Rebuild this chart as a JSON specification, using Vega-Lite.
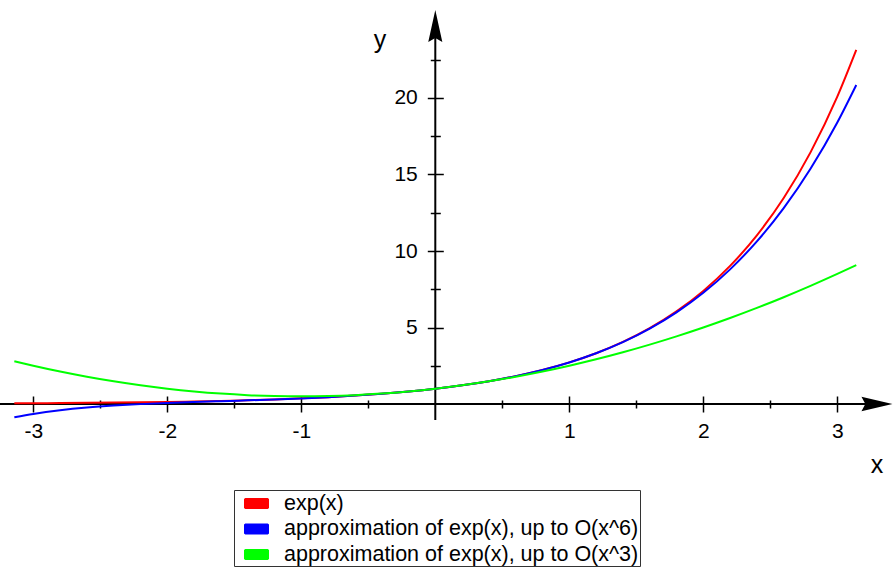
{
  "$schema": "https://vega.github.io/schema/vega-lite/v6.json",
  "width": 893,
  "height": 569,
  "padding": 0,
  "autosize": {"type": "none"},
  "background": "white",
  "config": {"view": {"stroke": null}, "font": "Liberation Sans"},
  "data": {"values": [{}]},
  "datasets": {
    "curves": [
      {"x": -3.1416, "y": 0.0432, "s": "exp(x)"},
      {"x": -3, "y": 0.0498, "s": "exp(x)"},
      {"x": -2.8, "y": 0.0608, "s": "exp(x)"},
      {"x": -2.6, "y": 0.0743, "s": "exp(x)"},
      {"x": -2.4, "y": 0.0907, "s": "exp(x)"},
      {"x": -2.2, "y": 0.1108, "s": "exp(x)"},
      {"x": -2, "y": 0.1353, "s": "exp(x)"},
      {"x": -1.8, "y": 0.1653, "s": "exp(x)"},
      {"x": -1.6, "y": 0.2019, "s": "exp(x)"},
      {"x": -1.4, "y": 0.2466, "s": "exp(x)"},
      {"x": -1.2, "y": 0.3012, "s": "exp(x)"},
      {"x": -1, "y": 0.3679, "s": "exp(x)"},
      {"x": -0.8, "y": 0.4493, "s": "exp(x)"},
      {"x": -0.6, "y": 0.5488, "s": "exp(x)"},
      {"x": -0.4, "y": 0.6703, "s": "exp(x)"},
      {"x": -0.2, "y": 0.8187, "s": "exp(x)"},
      {"x": 0, "y": 1, "s": "exp(x)"},
      {"x": 0.2, "y": 1.2214, "s": "exp(x)"},
      {"x": 0.4, "y": 1.4918, "s": "exp(x)"},
      {"x": 0.6, "y": 1.8221, "s": "exp(x)"},
      {"x": 0.8, "y": 2.2255, "s": "exp(x)"},
      {"x": 1, "y": 2.7183, "s": "exp(x)"},
      {"x": 1.2, "y": 3.3201, "s": "exp(x)"},
      {"x": 1.4, "y": 4.0552, "s": "exp(x)"},
      {"x": 1.6, "y": 4.953, "s": "exp(x)"},
      {"x": 1.8, "y": 6.0496, "s": "exp(x)"},
      {"x": 2, "y": 7.3891, "s": "exp(x)"},
      {"x": 2.2, "y": 9.025, "s": "exp(x)"},
      {"x": 2.4, "y": 11.0232, "s": "exp(x)"},
      {"x": 2.6, "y": 13.4637, "s": "exp(x)"},
      {"x": 2.8, "y": 16.4446, "s": "exp(x)"},
      {"x": 3, "y": 20.0855, "s": "exp(x)"},
      {"x": 3.1416, "y": 23.1407, "s": "exp(x)"},
      {"x": -3.1416, "y": -0.866, "s": "approximation of exp(x), up to O(x^6)"},
      {"x": -3, "y": -0.65, "s": "approximation of exp(x), up to O(x^6)"},
      {"x": -2.8, "y": -0.4118, "s": "approximation of exp(x), up to O(x^6)"},
      {"x": -2.6, "y": -0.2353, "s": "approximation of exp(x), up to O(x^6)"},
      {"x": -2.4, "y": -0.1052, "s": "approximation of exp(x), up to O(x^6)"},
      {"x": -2.2, "y": -0.0081, "s": "approximation of exp(x), up to O(x^6)"},
      {"x": -2, "y": 0.0667, "s": "approximation of exp(x), up to O(x^6)"},
      {"x": -1.8, "y": 0.1279, "s": "approximation of exp(x), up to O(x^6)"},
      {"x": -1.6, "y": 0.183, "s": "approximation of exp(x), up to O(x^6)"},
      {"x": -1.4, "y": 0.238, "s": "approximation of exp(x), up to O(x^6)"},
      {"x": -1.2, "y": 0.2977, "s": "approximation of exp(x), up to O(x^6)"},
      {"x": -1, "y": 0.3667, "s": "approximation of exp(x), up to O(x^6)"},
      {"x": -0.8, "y": 0.4491, "s": "approximation of exp(x), up to O(x^6)"},
      {"x": -0.6, "y": 0.5488, "s": "approximation of exp(x), up to O(x^6)"},
      {"x": -0.4, "y": 0.6703, "s": "approximation of exp(x), up to O(x^6)"},
      {"x": -0.2, "y": 0.8187, "s": "approximation of exp(x), up to O(x^6)"},
      {"x": 0, "y": 1, "s": "approximation of exp(x), up to O(x^6)"},
      {"x": 0.2, "y": 1.2214, "s": "approximation of exp(x), up to O(x^6)"},
      {"x": 0.4, "y": 1.4918, "s": "approximation of exp(x), up to O(x^6)"},
      {"x": 0.6, "y": 1.822, "s": "approximation of exp(x), up to O(x^6)"},
      {"x": 0.8, "y": 2.2251, "s": "approximation of exp(x), up to O(x^6)"},
      {"x": 1, "y": 2.7167, "s": "approximation of exp(x), up to O(x^6)"},
      {"x": 1.2, "y": 3.3151, "s": "approximation of exp(x), up to O(x^6)"},
      {"x": 1.4, "y": 4.0422, "s": "approximation of exp(x), up to O(x^6)"},
      {"x": 1.6, "y": 4.9232, "s": "approximation of exp(x), up to O(x^6)"},
      {"x": 1.8, "y": 5.9869, "s": "approximation of exp(x), up to O(x^6)"},
      {"x": 2, "y": 7.2667, "s": "approximation of exp(x), up to O(x^6)"},
      {"x": 2.2, "y": 8.8003, "s": "approximation of exp(x), up to O(x^6)"},
      {"x": 2.4, "y": 10.63, "s": "approximation of exp(x), up to O(x^6)"},
      {"x": 2.6, "y": 12.8035, "s": "approximation of exp(x), up to O(x^6)"},
      {"x": 2.8, "y": 15.374, "s": "approximation of exp(x), up to O(x^6)"},
      {"x": 3, "y": 18.4, "s": "approximation of exp(x), up to O(x^6)"},
      {"x": 3.1416, "y": 20.853, "s": "approximation of exp(x), up to O(x^6)"},
      {"x": -3.1416, "y": 2.7932, "s": "approximation of exp(x), up to O(x^3)"},
      {"x": -3, "y": 2.5, "s": "approximation of exp(x), up to O(x^3)"},
      {"x": -2.8, "y": 2.12, "s": "approximation of exp(x), up to O(x^3)"},
      {"x": -2.6, "y": 1.78, "s": "approximation of exp(x), up to O(x^3)"},
      {"x": -2.4, "y": 1.48, "s": "approximation of exp(x), up to O(x^3)"},
      {"x": -2.2, "y": 1.22, "s": "approximation of exp(x), up to O(x^3)"},
      {"x": -2, "y": 1, "s": "approximation of exp(x), up to O(x^3)"},
      {"x": -1.8, "y": 0.82, "s": "approximation of exp(x), up to O(x^3)"},
      {"x": -1.6, "y": 0.68, "s": "approximation of exp(x), up to O(x^3)"},
      {"x": -1.4, "y": 0.58, "s": "approximation of exp(x), up to O(x^3)"},
      {"x": -1.2, "y": 0.52, "s": "approximation of exp(x), up to O(x^3)"},
      {"x": -1, "y": 0.5, "s": "approximation of exp(x), up to O(x^3)"},
      {"x": -0.8, "y": 0.52, "s": "approximation of exp(x), up to O(x^3)"},
      {"x": -0.6, "y": 0.58, "s": "approximation of exp(x), up to O(x^3)"},
      {"x": -0.4, "y": 0.68, "s": "approximation of exp(x), up to O(x^3)"},
      {"x": -0.2, "y": 0.82, "s": "approximation of exp(x), up to O(x^3)"},
      {"x": 0, "y": 1, "s": "approximation of exp(x), up to O(x^3)"},
      {"x": 0.2, "y": 1.22, "s": "approximation of exp(x), up to O(x^3)"},
      {"x": 0.4, "y": 1.48, "s": "approximation of exp(x), up to O(x^3)"},
      {"x": 0.6, "y": 1.78, "s": "approximation of exp(x), up to O(x^3)"},
      {"x": 0.8, "y": 2.12, "s": "approximation of exp(x), up to O(x^3)"},
      {"x": 1, "y": 2.5, "s": "approximation of exp(x), up to O(x^3)"},
      {"x": 1.2, "y": 2.92, "s": "approximation of exp(x), up to O(x^3)"},
      {"x": 1.4, "y": 3.38, "s": "approximation of exp(x), up to O(x^3)"},
      {"x": 1.6, "y": 3.88, "s": "approximation of exp(x), up to O(x^3)"},
      {"x": 1.8, "y": 4.42, "s": "approximation of exp(x), up to O(x^3)"},
      {"x": 2, "y": 5, "s": "approximation of exp(x), up to O(x^3)"},
      {"x": 2.2, "y": 5.62, "s": "approximation of exp(x), up to O(x^3)"},
      {"x": 2.4, "y": 6.28, "s": "approximation of exp(x), up to O(x^3)"},
      {"x": 2.6, "y": 6.98, "s": "approximation of exp(x), up to O(x^3)"},
      {"x": 2.8, "y": 7.72, "s": "approximation of exp(x), up to O(x^3)"},
      {"x": 3, "y": 8.5, "s": "approximation of exp(x), up to O(x^3)"},
      {"x": 3.1416, "y": 9.0764, "s": "approximation of exp(x), up to O(x^3)"}
    ]
  },
  "layer": [
    {
      "mark": {"type": "rule", "color": "black", "strokeWidth": 2},
      "encoding": {
        "x": {"datum": 0, "type": "quantitative",
          "scale": {"domain": [-3.2485, 3.4157], "nice": false, "zero": false},
          "axis": {"orient": "bottom", "offset": -169, "values": [-2.5, -1.5, -0.5, 0.5, 1.5, 2.5], "tickSize": 8, "tickWidth": 1.5, "tickColor": "black", "labels": false, "domain": false, "grid": false, "title": null}},
        "y": {"datum": -1.05, "type": "quantitative",
          "scale": {"domain": [-10.784, 26.405], "nice": false, "zero": false},
          "axis": {"orient": "left", "offset": -440.3, "values": [2.5, 7.5, 12.5, 17.5, 22.5], "tickSize": 10, "tickWidth": 1.5, "tickColor": "black", "labels": false, "domain": false, "grid": false, "title": null}},
        "y2": {"datum": 24.7}
      }
    },
    {
      "mark": {"type": "rule", "color": "black", "strokeWidth": 2},
      "encoding": {
        "x": {"datum": -3.2485, "type": "quantitative", "axis": null},
        "x2": {"datum": 3.3},
        "y": {"datum": 0, "type": "quantitative", "axis": null}
      }
    },
    {
      "data": {"name": "curves"},
      "mark": {"type": "line", "strokeWidth": 2, "interpolate": "monotone"},
      "encoding": {
        "x": {"field": "x", "type": "quantitative",
          "scale": {"domain": [-3.2485, 3.4157], "nice": false, "zero": false},
          "axis": {"orient": "bottom", "offset": -173, "values": [-3, -2, -1, 1, 2, 3], "labelExpr": "toString(datum.value)", "tickSize": 16, "tickWidth": 1.5, "tickColor": "black", "domain": false, "grid": false, "title": null, "labelFont": "Liberation Sans", "labelFontSize": 21, "labelColor": "black", "labelPadding": 8, "labelFlush": false, "labelOverlap": false}},
        "y": {"field": "y", "type": "quantitative",
          "scale": {"domain": [-10.784, 26.405], "nice": false, "zero": false},
          "axis": {"orient": "left", "offset": -443.3, "values": [5, 10, 15, 20], "tickSize": 16, "tickWidth": 1.5, "tickColor": "black", "domain": false, "grid": false, "title": null, "labelFont": "Liberation Sans", "labelFontSize": 21, "labelColor": "black", "labelPadding": 10, "labelFlush": false, "labelOverlap": false}},
        "color": {"field": "s", "type": "nominal",
          "scale": {"domain": ["exp(x)", "approximation of exp(x), up to O(x^6)", "approximation of exp(x), up to O(x^3)"], "range": ["#ff0000", "#0000ff", "#00ff00"]},
          "legend": {"orient": "none", "legendX": 234, "legendY": 490, "title": null, "strokeColor": "#333333", "fillColor": "white", "padding": 1, "symbolOffset": 9, "symbolType": "M-1,-0.36L-0.9,-0.44L0.9,-0.44L1,-0.36L1,0.36L0.9,0.44L-0.9,0.44L-1,0.36Z", "symbolSize": 625, "symbolStrokeWidth": 0, "labelFont": "Liberation Sans", "labelFontSize": 21.5, "labelColor": "black", "labelLimit": 600, "labelOffset": 15, "rowPadding": 2.5,
            "encode": {"symbols": {"update": {"fill": {"scale": "color", "field": "value"}, "stroke": {"value": "transparent"}, "opacity": {"value": 1}}}}}}
      }
    },
    {
      "mark": {"type": "point", "filled": true, "color": "black", "opacity": 1, "strokeWidth": 0, "shape": "M0,-1L0.44,1L0,0.75L-0.44,1Z", "size": 1024},
      "encoding": {
        "x": {"datum": 0, "type": "quantitative", "axis": null},
        "y": {"datum": 24.7, "type": "quantitative", "axis": null}
      }
    },
    {
      "mark": {"type": "point", "filled": true, "color": "black", "opacity": 1, "strokeWidth": 0, "shape": "M1,0L-1,-0.47L-0.75,0L-1,0.47Z", "size": 961},
      "encoding": {
        "x": {"datum": 3.296, "type": "quantitative", "axis": null},
        "y": {"datum": 0, "type": "quantitative", "axis": null}
      }
    },
    {
      "mark": {"type": "text", "text": "x", "font": "Liberation Sans", "fontSize": 25, "color": "black", "align": "center", "baseline": "middle"},
      "encoding": {
        "x": {"datum": 3.296, "type": "quantitative", "axis": null},
        "y": {"datum": -3.99, "type": "quantitative", "axis": null}
      }
    },
    {
      "mark": {"type": "text", "text": "y", "font": "Liberation Sans", "fontSize": 25, "color": "black", "align": "center", "baseline": "middle"},
      "encoding": {
        "x": {"datum": -0.413, "type": "quantitative", "axis": null},
        "y": {"datum": 23.79, "type": "quantitative", "axis": null}
      }
    }
  ],
  "resolve": {"axis": {"x": "independent", "y": "independent"}}
}
